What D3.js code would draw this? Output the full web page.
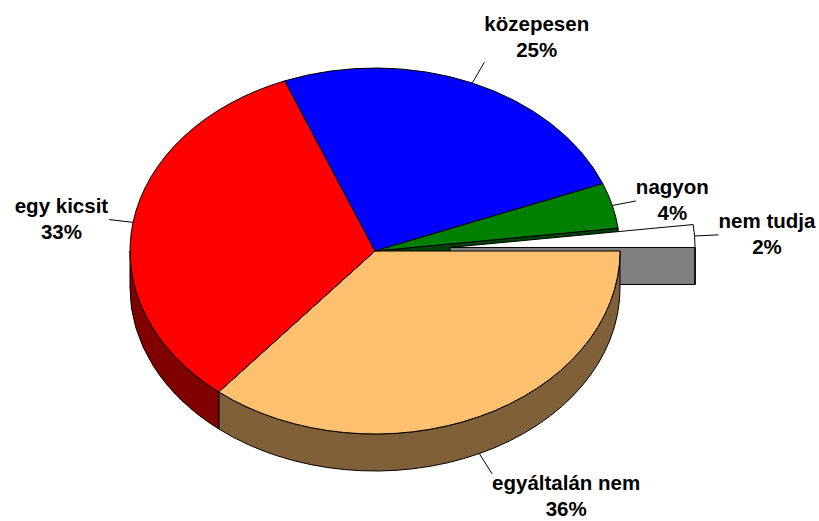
<!DOCTYPE html>
<html>
<head>
<meta charset="utf-8">
<script src="https://cdn.jsdelivr.net/npm/d3@7"></script>
<style>
  body { margin: 0; background: #fff; }
  .lbl { font-family: "Liberation Sans", Arial, sans-serif; font-weight: bold; font-size: 20.5px; fill: #000; }
</style>
</head>
<body>
<div id="chart"></div>
<script>
// chart data
const categories = ["egyáltalán nem", "egy kicsit", "közepesen", "nagyon", "nem tudja"];
const values = [36, 33, 25, 4, 2];
const percentLabels = ["36%", "33%", "25%", "4%", "2%"];
const explodedIndex = 4;

// palette (top face / side face)
const topColors = ["#FFC070", "#FF0000", "#0000FF", "#008000", "#FFFFFF"];
const sideColors = ["#806038", "#800000", "#000080", "#004000", "#808080"];

const W = 819, H = 521;
const cx = 375, cy = 251, rx = 245, ry = 183, depth = 37, explode = 0.307;

const svg = d3.select("#chart").append("svg")
  .attr("width", W)
  .attr("height", H);

const data = categories.map((c, i) => ({ name: c, value: values[i], pct: percentLabels[i], i: i }));

// angles start at 3 o'clock and run clockwise
const pie = d3.pie()
  .sort(null)
  .value(d => d.value)
  .startAngle(Math.PI / 2)
  .endAngle(Math.PI / 2 + 2 * Math.PI);

const arcs = pie(data);

arcs.forEach(a => {
  const mid = (a.startAngle + a.endAngle) / 2;
  const e = a.data.i === explodedIndex ? explode : 0;
  a.mid = mid;
  a.ox = cx + e * rx * Math.sin(mid);
  a.oy = cy - e * ry * Math.cos(mid);
});

const pt = (a, ang, dz = 0) => [a.ox + rx * Math.sin(ang), a.oy - ry * Math.cos(ang) + dz];

function topPath(a) {
  const p0 = pt(a, a.startAngle), p1 = pt(a, a.endAngle);
  const large = a.endAngle - a.startAngle > Math.PI ? 1 : 0;
  return `M${a.ox},${a.oy}L${p0}A${rx},${ry} 0 ${large} 1 ${p1}Z`;
}

// outer wall, only the part on the front half of the ellipse
function wallPaths(a) {
  const out = [];
  for (let k = 0; k < 2; k++) {
    const lo = Math.max(a.startAngle, Math.PI / 2 + 2 * Math.PI * k);
    const hi = Math.min(a.endAngle, 3 * Math.PI / 2 + 2 * Math.PI * k);
    if (hi > lo) {
      const t0 = pt(a, lo), t1 = pt(a, hi), b0 = pt(a, lo, depth), b1 = pt(a, hi, depth);
      out.push(`M${t0}A${rx},${ry} 0 0 1 ${t1}L${b1}A${rx},${ry} 0 0 0 ${b0}Z`);
    }
  }
  return out;
}

// radial cut face
function facePath(a, ang) {
  const p = pt(a, ang), pb = pt(a, ang, depth);
  return `M${a.ox},${a.oy}L${p}L${pb}L${a.ox},${a.oy + depth}Z`;
}

const g = svg.append("g")
  .attr("stroke", "#000")
  .attr("stroke-width", 1)
  .attr("stroke-linejoin", "round");

function drawFace(a, ang) {
  g.append("path").attr("d", facePath(a, ang)).attr("fill", sideColors[a.data.i]);
}

// faces of neighbours that look into the gap of the exploded slice
const n = arcs.length;
const prev = arcs[(explodedIndex - 1 + n) % n];
const next = arcs[(explodedIndex + 1) % n];
if (Math.sin(prev.endAngle) > 0) drawFace(prev, prev.endAngle);
if (Math.sin(next.startAngle) < 0) drawFace(next, next.startAngle);

// exploded slice
const ex = arcs[explodedIndex];
if (Math.sin(ex.startAngle) < 0) drawFace(ex, ex.startAngle);
if (Math.sin(ex.endAngle) > 0) drawFace(ex, ex.endAngle);
wallPaths(ex).forEach(d => g.append("path").attr("d", d).attr("fill", sideColors[ex.data.i]));
g.append("path").attr("d", topPath(ex)).attr("fill", topColors[ex.data.i]);

// main pie walls then tops
const rest = arcs.filter(a => a.data.i !== explodedIndex);
rest.forEach(a => {
  wallPaths(a).forEach(d => g.append("path").attr("d", d).attr("fill", sideColors[a.data.i]));
});
rest.forEach(a => {
  g.append("path").attr("d", topPath(a)).attr("fill", topColors[a.data.i]);
});

// labels with leader lines
const leaderLen = 24, lineGap = 26;
arcs.forEach(a => {
  const front = -Math.cos(a.mid) > 0;
  const s = pt(a, a.mid, front ? depth : 0);
  let ux = rx * Math.sin(a.mid), uy = -ry * Math.cos(a.mid);
  const len = Math.hypot(ux, uy);
  ux /= len; uy /= len;
  const e = [s[0] + leaderLen * ux, s[1] + leaderLen * uy];

  svg.append("line")
    .attr("x1", s[0]).attr("y1", s[1])
    .attr("x2", e[0]).attr("y2", e[1])
    .attr("stroke", "#000")
    .attr("stroke-width", 1);

  const t = svg.append("text").attr("class", "lbl").attr("text-anchor", "middle");
  const t1 = t.append("tspan").text(a.data.name);
  const t2 = t.append("tspan").text(a.data.pct);
  const w = Math.max(t1.node().getComputedTextLength(), t2.node().getComputedTextLength());

  let xc;
  if (ux > 0.3) xc = e[0] + w / 2;
  else if (ux < -0.3) xc = e[0] - 1 - w / 2;
  else xc = e[0];

  let b1;
  if (uy < -0.7) b1 = e[1] - 31;
  else if (uy > 0.7) b1 = Math.min(e[1] + 19, H - 5 - lineGap);
  else b1 = e[1] - 7;

  t1.attr("x", xc).attr("y", b1);
  t2.attr("x", xc).attr("y", b1 + lineGap);
});
</script>
</body>
</html>
